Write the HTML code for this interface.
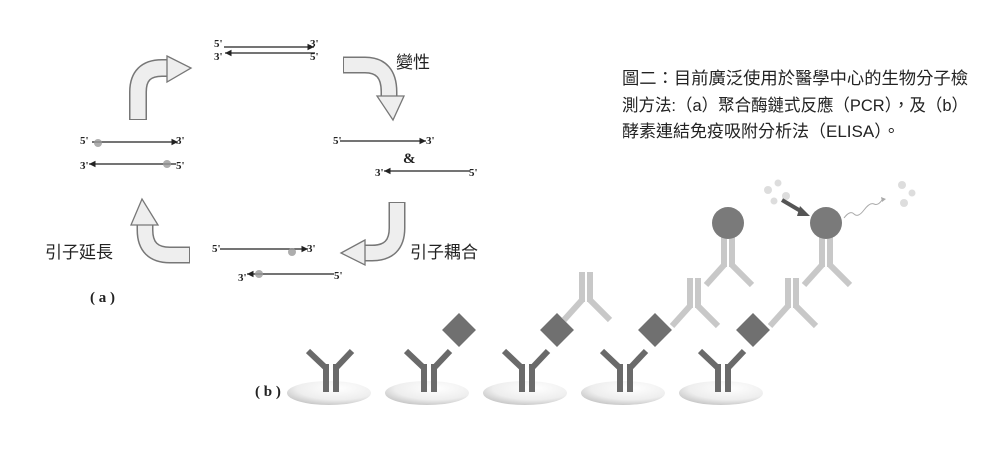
<!DOCTYPE html>
<html><head><meta charset="utf-8"><style>
html,body{margin:0;padding:0;background:#fff;}
svg{display:block;}
.s{font-family:"Liberation Serif",serif;font-size:11px;font-weight:bold;fill:#222;}
.c{font-family:"Liberation Sans","Noto Sans CJK TC",sans-serif;fill:#222;}
</style></head><body>
<svg width="996" height="461" viewBox="0 0 996 461" xmlns="http://www.w3.org/2000/svg">
<defs>
<marker id="ah" markerWidth="6" markerHeight="6" refX="5" refY="3" orient="auto"><path d="M0,0.5 L5,3 L0,5.5z" fill="#222"/></marker>
<radialGradient id="pl" cx="0.6" cy="0.3" r="0.8"><stop offset="0" stop-color="#fff"/><stop offset="0.6" stop-color="#eee"/><stop offset="1" stop-color="#bbb"/></radialGradient>
</defs>
<g stroke="#222" stroke-width="1.3" fill="none">
<line x1="224" y1="47" x2="314" y2="47" marker-end="url(#ah)"/>
<line x1="315" y1="53" x2="225" y2="53" marker-end="url(#ah)"/>
<line x1="92" y1="142" x2="178" y2="142" marker-end="url(#ah)"/>
<line x1="176" y1="164" x2="89" y2="164" marker-end="url(#ah)"/>
<line x1="340" y1="141" x2="426" y2="141" marker-end="url(#ah)"/>
<line x1="470" y1="171" x2="384" y2="171" marker-end="url(#ah)"/>
<line x1="220" y1="249" x2="308" y2="249" marker-end="url(#ah)"/>
<line x1="334" y1="274" x2="247" y2="274" marker-end="url(#ah)"/>
</g>
<g fill="#999" opacity="0.8"><circle cx="98" cy="143" r="4"/><circle cx="167" cy="164" r="4"/><circle cx="292" cy="252" r="4"/><circle cx="259" cy="274" r="4"/></g>
<g class="s">
<text x="214" y="47">5'</text><text x="310" y="47">3'</text><text x="214" y="60">3'</text><text x="310" y="60">5'</text>
<text x="80" y="144">5'</text><text x="176" y="144">3'</text><text x="80" y="169">3'</text><text x="176" y="169">5'</text>
<text x="333" y="144">5'</text><text x="426" y="144">3'</text><text x="375" y="176">3'</text><text x="469" y="176">5'</text>
<text x="212" y="252">5'</text><text x="307" y="252">3'</text><text x="238" y="281">3'</text><text x="334" y="279">5'</text>
</g>
<text x="403" y="163" font-family="Liberation Serif,serif" font-weight="bold" font-size="15" fill="#222">&amp;</text>
<g stroke-linecap="butt" fill="none">
<path d="M138,120 L138,92 Q138,68 162,68 L168,68" stroke="#777" stroke-width="18"/>
<path d="M138,119 L138,92 Q138,68 162,68 L169,68" stroke="#eee" stroke-width="15"/>
<path d="M343,65 L365,65 Q389,65 389,92 L389,96" stroke="#777" stroke-width="17"/>
<path d="M344,65 L365,65 Q389,65 389,92 L389,97" stroke="#eee" stroke-width="14"/>
<path d="M397,202 L397,228 Q397,253 372,253 L364,253" stroke="#777" stroke-width="17"/>
<path d="M397,203 L397,228 Q397,253 372,253 L363,253" stroke="#eee" stroke-width="14"/>
<path d="M190,255 L170,255 Q145,255 145,230 L145,225" stroke="#777" stroke-width="17"/>
<path d="M189,255 L170,255 Q145,255 145,230 L145,224" stroke="#eee" stroke-width="14"/>
</g>
<g fill="#eee" stroke="#777" stroke-width="1.3">
<polygon points="167,56 191,68 167,82"/>
<polygon points="377,96 393,120 404,96"/>
<polygon points="365,240 341,253 365,265"/>
<polygon points="131,225 142,199 158,225"/>
</g>
<text class="c" x="396" y="68" font-size="17">變性</text>
<text class="c" x="410" y="258" font-size="17">引子耦合</text>
<text class="c" x="45" y="258" font-size="17">引子延長</text>
<text x="90" y="302" font-family="Liberation Serif,serif" font-weight="bold" font-size="15" fill="#222">( a )</text>
<text x="255" y="396" font-family="Liberation Serif,serif" font-weight="bold" font-size="15" fill="#222">( b )</text>
<g class="c" font-size="17">
<text x="622" y="84" textLength="346" lengthAdjust="spacingAndGlyphs">圖二：目前廣泛使用於醫學中心的生物分子檢</text>
<text x="622" y="111" textLength="346" lengthAdjust="spacingAndGlyphs">測方法:（a）聚合酶鏈式反應（PCR），及（b）</text>
<text x="622" y="137">酵素連結免疫吸附分析法（ELISA）。</text>
</g>
<g id="p">
<ellipse cx="329" cy="393" rx="42" ry="12" fill="url(#pl)"/>
<g stroke="#6a6a6a" stroke-width="6" stroke-linecap="butt">
<line x1="326" y1="364" x2="326" y2="392"/><line x1="336" y1="364" x2="336" y2="392"/>
<line x1="327" y1="369" x2="308" y2="351"/><line x1="335" y1="369" x2="352" y2="351"/>
</g>
</g>
<use href="#p" x="98"/><use href="#p" x="196"/><use href="#p" x="294"/><use href="#p" x="392"/>
<g fill="#707070">
<rect x="447" y="318" width="24" height="24" transform="rotate(45 459 330)"/>
<rect x="545" y="318" width="24" height="24" transform="rotate(45 557 330)"/>
<rect x="643" y="318" width="24" height="24" transform="rotate(45 655 330)"/>
<rect x="741" y="318" width="24" height="24" transform="rotate(45 753 330)"/>
</g>
<g id="ly" stroke="#c8c8c8" stroke-width="6" fill="none">
<line x1="582" y1="272" x2="582" y2="302"/><line x1="590" y1="272" x2="590" y2="302"/>
<line x1="582" y1="300" x2="564" y2="320"/><line x1="590" y1="300" x2="610" y2="320"/>
</g>
<use href="#ly" x="108" y="6"/><use href="#ly" x="206" y="6"/>
<use href="#ly" x="142" y="-35"/><use href="#ly" x="240" y="-35"/>
<circle cx="728" cy="223" r="16" fill="#7a7a7a"/>
<circle cx="826" cy="223" r="16" fill="#7a7a7a"/>
<g fill="#ddd"><circle cx="768" cy="190" r="4"/><circle cx="778" cy="183" r="3.5"/><circle cx="786" cy="196" r="4"/><circle cx="774" cy="201" r="3.5"/>
<circle cx="902" cy="185" r="4"/><circle cx="912" cy="193" r="3.5"/><circle cx="904" cy="203" r="4"/></g>
<line x1="782" y1="200" x2="804" y2="213" stroke="#555" stroke-width="4"/>
<polygon points="800,206 810,216 797,216" fill="#555"/>
<path d="M844,218 q6,-8 10,-4 t10,-4 t10,-6 t8,-4" stroke="#aaa" fill="none" stroke-width="1"/>
<polygon points="881,197 886,199 882,202" fill="#aaa"/>
</svg>
</body></html>
